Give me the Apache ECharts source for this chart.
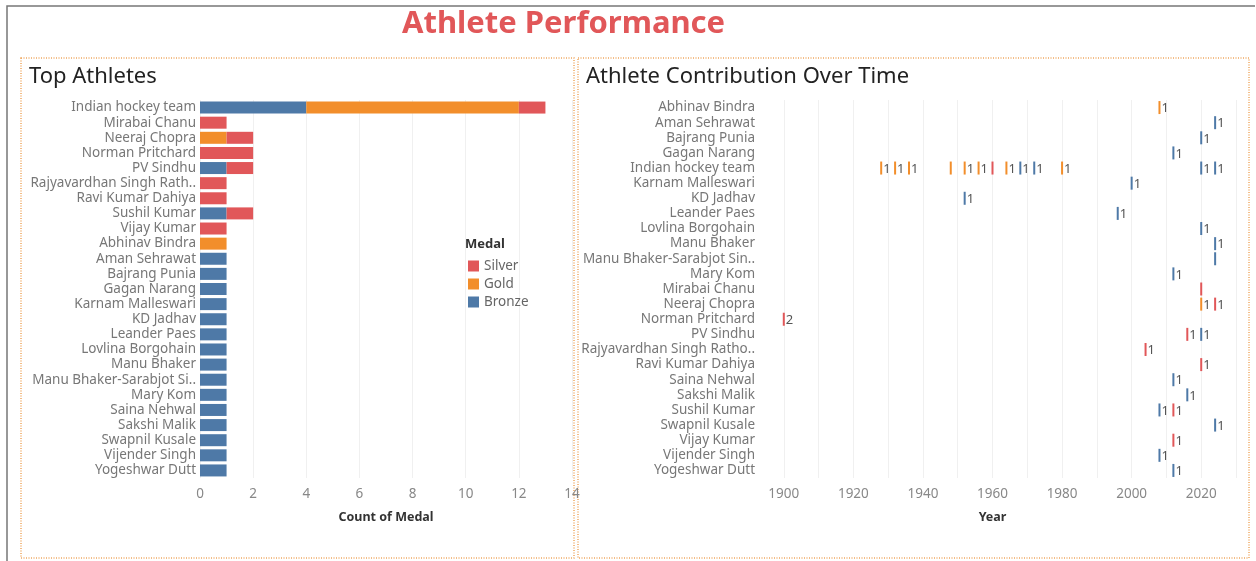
<!DOCTYPE html>
<html>
<head>
<meta charset="utf-8">
<script src="https://cdn.jsdelivr.net/npm/echarts@6/dist/echarts.min.js"></script>
<style>
  html, body { margin: 0; padding: 0; background: #fff; }
  #chart { width: 1256px; height: 561px; }
</style>
</head>
<body>
<div id="chart"></div>
<script>
// left chart: medal counts per athlete
const topAthletes = ['Indian hockey team', 'Mirabai Chanu', 'Neeraj Chopra', 'Norman Pritchard', 'PV Sindhu',
  'Rajyavardhan Singh Rathore', 'Ravi Kumar Dahiya', 'Sushil Kumar', 'Vijay Kumar', 'Abhinav Bindra',
  'Aman Sehrawat', 'Bajrang Punia', 'Gagan Narang', 'Karnam Malleswari', 'KD Jadhav', 'Leander Paes',
  'Lovlina Borgohain', 'Manu Bhaker', 'Manu Bhaker-Sarabjot Singh', 'Mary Kom', 'Saina Nehwal',
  'Sakshi Malik', 'Swapnil Kusale', 'Vijender Singh', 'Yogeshwar Dutt']
const bronzeCounts = [4, 0, 0, 0, 1, 0, 0, 1, 0, 0, 1, 1, 1, 1, 1, 1, 1, 1, 1, 1, 1, 1, 1, 1, 1]
const goldCounts   = [8, 0, 1, 0, 0, 0, 0, 0, 0, 1, 0, 0, 0, 0, 0, 0, 0, 0, 0, 0, 0, 0, 0, 0, 0]
const silverCounts = [1, 1, 1, 2, 1, 1, 1, 1, 1, 0, 0, 0, 0, 0, 0, 0, 0, 0, 0, 0, 0, 0, 0, 0, 0]

// right chart: medals by year  [athlete, year, medal, count, showLabel]
const timeAthletes = ['Abhinav Bindra', 'Aman Sehrawat', 'Bajrang Punia', 'Gagan Narang', 'Indian hockey team',
  'Karnam Malleswari', 'KD Jadhav', 'Leander Paes', 'Lovlina Borgohain', 'Manu Bhaker',
  'Manu Bhaker-Sarabjot Singh', 'Mary Kom', 'Mirabai Chanu', 'Neeraj Chopra', 'Norman Pritchard',
  'PV Sindhu', 'Rajyavardhan Singh Rathore', 'Ravi Kumar Dahiya', 'Saina Nehwal', 'Sakshi Malik',
  'Sushil Kumar', 'Swapnil Kusale', 'Vijay Kumar', 'Vijender Singh', 'Yogeshwar Dutt']
const medalEvents = [
  ['Abhinav Bindra', 2008, 'Gold', 1, true],
  ['Aman Sehrawat', 2024, 'Bronze', 1, true],
  ['Bajrang Punia', 2020, 'Bronze', 1, true],
  ['Gagan Narang', 2012, 'Bronze', 1, true],
  ['Indian hockey team', 1928, 'Gold', 1, true],
  ['Indian hockey team', 1932, 'Gold', 1, true],
  ['Indian hockey team', 1936, 'Gold', 1, true],
  ['Indian hockey team', 1948, 'Gold', 1, false],
  ['Indian hockey team', 1952, 'Gold', 1, true],
  ['Indian hockey team', 1956, 'Gold', 1, true],
  ['Indian hockey team', 1960, 'Silver', 1, false],
  ['Indian hockey team', 1964, 'Gold', 1, true],
  ['Indian hockey team', 1968, 'Bronze', 1, true],
  ['Indian hockey team', 1972, 'Bronze', 1, true],
  ['Indian hockey team', 1980, 'Gold', 1, true],
  ['Indian hockey team', 2020, 'Bronze', 1, true],
  ['Indian hockey team', 2024, 'Bronze', 1, true],
  ['Karnam Malleswari', 2000, 'Bronze', 1, true],
  ['KD Jadhav', 1952, 'Bronze', 1, true],
  ['Leander Paes', 1996, 'Bronze', 1, true],
  ['Lovlina Borgohain', 2020, 'Bronze', 1, true],
  ['Manu Bhaker', 2024, 'Bronze', 1, true],
  ['Manu Bhaker-Sarabjot Singh', 2024, 'Bronze', 1, false],
  ['Mary Kom', 2012, 'Bronze', 1, true],
  ['Mirabai Chanu', 2020, 'Silver', 1, false],
  ['Neeraj Chopra', 2020, 'Gold', 1, true],
  ['Neeraj Chopra', 2024, 'Silver', 1, true],
  ['Norman Pritchard', 1900, 'Silver', 2, true],
  ['PV Sindhu', 2016, 'Silver', 1, true],
  ['PV Sindhu', 2020, 'Bronze', 1, true],
  ['Rajyavardhan Singh Rathore', 2004, 'Silver', 1, true],
  ['Ravi Kumar Dahiya', 2020, 'Silver', 1, true],
  ['Saina Nehwal', 2012, 'Bronze', 1, true],
  ['Sakshi Malik', 2016, 'Bronze', 1, true],
  ['Sushil Kumar', 2008, 'Bronze', 1, true],
  ['Sushil Kumar', 2012, 'Silver', 1, true],
  ['Swapnil Kusale', 2024, 'Bronze', 1, true],
  ['Vijay Kumar', 2012, 'Silver', 1, true],
  ['Vijender Singh', 2008, 'Bronze', 1, true],
  ['Yogeshwar Dutt', 2012, 'Bronze', 1, true]
]

const medalColors = {Silver: '#e15759', Gold: '#f28e2b', Bronze: '#4e79a7'}
const font = 'Noto Sans'

const cut = (n) => (s) => s.length > n ? s.slice(0, n) + '..' : s

const chart = echarts.init(document.getElementById('chart'))

function timeSeries(medal) {
  return {
    name: medal,
    type: 'scatter',
    xAxisIndex: 1,
    yAxisIndex: 1,
    symbol: 'rect',
    symbolSize: [2, 13],
    itemStyle: {color: medalColors[medal], opacity: 1},
    label: {
      show: true,
      position: 'right',
      distance: 1,
      offset: [0, 1],
      formatter: p => p.value[2],
      color: '#555',
      fontSize: 13,
      fontFamily: font
    },
    data: medalEvents.filter(e => e[2] === medal).map(e => ({
      value: [e[1], e[0], e[3]],
      label: {show: e[4]}
    }))
  }
}

const catAxis = (names, gridIndex, limit, margin) => ({
  type: 'category',
  gridIndex: gridIndex,
  data: names,
  inverse: true,
  axisLine: {show: false},
  axisTick: {show: false},
  axisLabel: {interval: 0, color: '#777', fontSize: 13.5, fontFamily: font, margin: margin, formatter: cut(limit)}
})

chart.setOption({
  animation: false,
  title: [
    {text: 'Athlete Performance', left: 397, top: 4,
      textStyle: {color: '#e15759', fontSize: 31, fontWeight: 'bold', fontFamily: font}},
    {text: 'Top Athletes', left: 24, top: 61,
      textStyle: {color: '#222', fontSize: 22, fontWeight: 'normal', fontFamily: font}},
    {text: 'Athlete Contribution Over Time', left: 581, top: 61,
      textStyle: {color: '#222', fontSize: 22, fontWeight: 'normal', fontFamily: font}}
  ],
  graphic: [
    {type: 'polyline', shape: {points: [[7, 561], [7, 6], [1255, 6]]}, style: {stroke: '#777', lineWidth: 1.5, fill: null}},
    {type: 'rect', shape: {x: 21, y: 58, width: 553, height: 500}, style: {fill: null, stroke: '#f0a860', lineWidth: 1.5, lineDash: [1, 1.5]}},
    {type: 'rect', shape: {x: 578, y: 58, width: 671, height: 500}, style: {fill: null, stroke: '#f0a860', lineWidth: 1.5, lineDash: [1, 1.5]}},
    {type: 'text', left: 465, top: 238, style: {text: 'Medal', fill: '#333', font: 'bold 13px "Noto Sans"'}}
  ],
  legend: {
    data: ['Silver', 'Gold', 'Bronze'],
    orient: 'vertical',
    left: 463,
    top: 254,
    itemWidth: 11,
    itemHeight: 11,
    itemGap: 4,
    icon: 'rect',
    textStyle: {color: '#666', fontSize: 13.5, fontFamily: font}
  },
  grid: [
    {left: 200, top: 100, width: 372, height: 378},
    {left: 749, top: 100, width: 487, height: 378}
  ],
  xAxis: [
    {
      type: 'value', gridIndex: 0, min: 0, max: 14, interval: 2,
      name: 'Count of Medal', nameLocation: 'middle', nameGap: 33,
      nameTextStyle: {color: '#333', fontSize: 12.5, fontWeight: 'bold', fontFamily: font},
      axisLine: {show: false}, axisTick: {show: false},
      axisLabel: {color: '#888', fontSize: 13.5, fontFamily: font, margin: 9},
      splitLine: {lineStyle: {color: '#f0f0f0'}}
    },
    {
      type: 'value', gridIndex: 1, min: 1890, max: 2030, interval: 10,
      name: 'Year', nameLocation: 'middle', nameGap: 33,
      nameTextStyle: {color: '#333', fontSize: 12.5, fontWeight: 'bold', fontFamily: font},
      axisLine: {show: false}, axisTick: {show: false},
      axisLabel: {color: '#888', fontSize: 13.5, fontFamily: font, margin: 9,
        formatter: v => (v % 20 === 0 && v >= 1900 && v <= 2020) ? String(v) : ''},
      splitLine: {showMinLine: false, lineStyle: {color: '#f0f0f0'}}
    }
  ],
  yAxis: [catAxis(topAthletes, 0, 23, 4), catAxis(timeAthletes, 1, 24, -6)],
  series: [
    {name: 'Bronze', type: 'bar', stack: 'm', xAxisIndex: 0, yAxisIndex: 0, barWidth: 12,
      itemStyle: {color: medalColors.Bronze}, data: bronzeCounts},
    {name: 'Gold', type: 'bar', stack: 'm', xAxisIndex: 0, yAxisIndex: 0, barWidth: 12,
      itemStyle: {color: medalColors.Gold}, data: goldCounts},
    {name: 'Silver', type: 'bar', stack: 'm', xAxisIndex: 0, yAxisIndex: 0, barWidth: 12,
      itemStyle: {color: medalColors.Silver}, data: silverCounts},
    timeSeries('Silver'),
    timeSeries('Gold'),
    timeSeries('Bronze')
  ]
})
</script>
</body>
</html>
